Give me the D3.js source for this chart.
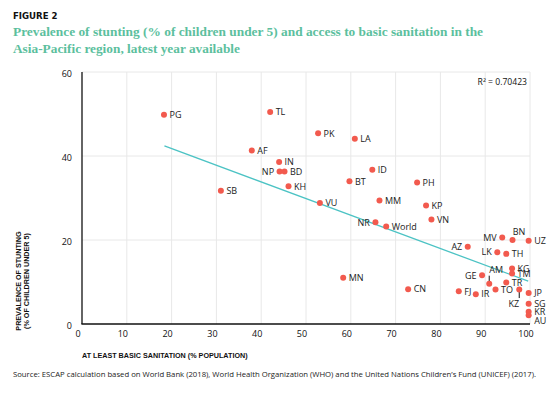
<!DOCTYPE html>
<html>
<head>
<meta charset="utf-8">
<style>
	body { margin: 0; background: #fff; }
	svg { display: block; }
	.tick text { font-family: 'Open Sans', sans-serif; font-size: 9px; fill: #111; }
	.lbl { font-family: 'Open Sans', sans-serif; font-size: 9px; fill: #222; }
	.axtitle { font-family: 'Liberation Sans Narrow', 'Liberation Sans', sans-serif; font-weight: bold; font-size: 7.2px; fill: #111; }
</style>
<script src="https://d3js.org/d3.v7.min.js"></script>
</head>
<body>
<svg width="557" height="397"></svg>
<script>

// country codes, % with at least basic sanitation, % of children under 5 stunted
const codes = ["PG","SB","TL","PK","LA","AF","IN","NP","BD","KH",
	"ID","BT","VU","MM","PH","KP","VN","NR","World","MN",
	"CN","MV","BN","UZ","AZ","LK","TH","KG","GE","TM",
	"AM","TR","TO","KZ","FJ","IR","JP","SG","KR","AU"];
const sanitation = [18.3, 31.0, 42.0, 52.7, 60.9, 37.9, 44.0, 44.1, 45.2, 46.1,
	64.8, 59.7, 53.1, 66.4, 74.8, 76.8, 78.0, 65.5, 67.9, 58.3,
	72.8, 93.8, 96.1, 99.7, 86.1, 92.7, 94.7, 96.0, 89.3, 96.0,
	90.9, 94.7, 92.3, 97.6, 84.1, 87.9, 99.7, 99.7, 99.7, 99.7];
const stunting = [49.8, 31.7, 50.5, 45.4, 44.1, 41.3, 38.6, 36.3, 36.3, 32.8,
	36.7, 34.0, 28.8, 29.4, 33.7, 28.2, 24.9, 24.2, 23.2, 11.0,
	8.3, 20.6, 20.0, 19.8, 18.4, 17.1, 16.7, 13.2, 11.6, 12.0,
	9.6, 9.9, 8.2, 8.2, 7.8, 7.1, 7.4, 4.8, 2.9, 2.1];

// linear trend line end points
const trendX = [18.4, 99.6];
const trendY = [42.4, 10.2];
const rSquared = "0.70423";

const xTicks = [0, 10, 20, 30, 40, 50, 60, 70, 80, 90, 100];
const yTicks = [0, 20, 40, 60];

// where each label sits relative to its dot (default: right)
const labelSide = { NP: "left", NR: "left", MV: "left", AZ: "left", LK: "left", GE: "left",
	BN: "above", AM: "up", KZ: "down", AU: "lowright" };

const data = codes.map((c, i) => ({ code: c, x: sanitation[i], y: stunting[i] }));

var svg = d3.select("svg");

var x = d3.scaleLinear().domain([0, 100]).range([82, 530]);
var y = d3.scaleLinear().domain([0, 60]).range([324, 72]);

// titles
svg.append("text")
	.attr("x", 13).attr("y", 19)
	.style("font-family", "'DejaVu Sans', sans-serif")
	.style("font-weight", "bold")
	.style("font-size", "8.6px")
	.style("fill", "#111")
	.text("FIGURE 2");

var titleLines = ["Prevalence of stunting (% of children under 5) and access to basic sanitation in the",
	"Asia-Pacific region, latest year available"];
var titleWidths = [470, 227];
titleLines.forEach(function (t, i) {
	svg.append("text")
		.attr("x", 13).attr("y", 36 + i * 17)
		.attr("textLength", titleWidths[i])
		.attr("lengthAdjust", "spacingAndGlyphs")
		.style("font-family", "'Liberation Serif', serif")
		.style("font-weight", "bold")
		.style("font-size", "13.5px")
		.style("fill", "#5cbf9e")
		.text(t);
});

// grid
var grid = svg.append("g").attr("stroke", "#e8e8e8").attr("stroke-width", 1);
grid.selectAll(".vg").data(xTicks.slice(1)).enter().append("line")
	.attr("x1", d => x(d)).attr("x2", d => x(d))
	.attr("y1", y(60)).attr("y2", y(0));
grid.selectAll(".hg").data(yTicks.slice(1)).enter().append("line")
	.attr("x1", x(0)).attr("x2", x(100))
	.attr("y1", d => y(d)).attr("y2", d => y(d));

// axes
var xAxis = svg.append("g")
	.attr("transform", "translate(0," + y(0) + ")")
	.call(d3.axisBottom(x).tickValues(xTicks).tickSize(0).tickPadding(7));
xAxis.select(".domain").remove();
xAxis.selectAll("text").attr("dx", "-4.5");

var yAxis = svg.append("g")
	.attr("transform", "translate(" + x(0) + ",0)")
	.call(d3.axisLeft(y).tickValues(yTicks).tickSize(0).tickPadding(10));
yAxis.select(".domain").remove();
yAxis.selectAll("text").attr("dy", "0.55em");

svg.append("line")
	.attr("x1", x(0)).attr("x2", x(0)).attr("y1", y(60)).attr("y2", y(0))
	.attr("stroke", "#111").attr("stroke-width", 1.3);
svg.append("line")
	.attr("x1", x(0) - 0.6).attr("x2", x(100)).attr("y1", y(0)).attr("y2", y(0))
	.attr("stroke", "#111").attr("stroke-width", 1.3);

// axis titles
svg.append("text").attr("class", "axtitle")
	.attr("x", 82).attr("y", 357.5)
	.text("AT LEAST BASIC SANITATION (% POPULATION)");

var yt = svg.append("text").attr("class", "axtitle")
	.attr("transform", "translate(21,281) rotate(-90)")
	.attr("text-anchor", "middle");
yt.append("tspan").attr("x", 0).attr("y", 0).text("PREVALENCE OF STUNTING");
yt.append("tspan").attr("x", 0).attr("y", 7.5).text("(% OF CHILDREN UNDER 5)");

// trend line
svg.append("line")
	.attr("x1", x(trendX[0])).attr("y1", y(trendY[0]))
	.attr("x2", x(trendX[1])).attr("y2", y(trendY[1]))
	.attr("stroke", "#4cc3c4").attr("stroke-width", 1.3);

svg.append("text")
	.attr("x", 527).attr("y", 85)
	.attr("text-anchor", "end")
	.style("font-family", "'Open Sans', sans-serif")
	.style("font-size", "8.6px")
	.style("fill", "#111")
	.text("R\u00B2 = " + rSquared);

// leader lines for labels moved off the dot
svg.selectAll(".leader")
	.data(data.filter(d => labelSide[d.code] == "up" || labelSide[d.code] == "down"))
	.enter().append("line")
	.attr("x1", d => x(d.x)).attr("x2", d => x(d.x))
	.attr("y1", d => y(d.y))
	.attr("y2", d => labelSide[d.code] == "up" ? y(d.y) - 8 : y(d.y) + 8.5)
	.attr("stroke", "#111").attr("stroke-width", 1);

// dots
svg.selectAll(".dot")
	.data(data)
	.enter().append("circle")
	.attr("cx", d => x(d.x))
	.attr("cy", d => y(d.y))
	.attr("r", 3)
	.attr("fill", "#f25a4e");

// labels
svg.selectAll(".lbl")
	.data(data)
	.enter().append("text")
	.attr("class", "lbl")
	.attr("x", function (d) {
		var s = labelSide[d.code];
		if (s == "left") return x(d.x) - 5.5;
		if (s == "above") return x(d.x) + 6.5;
		if (s == "up" || s == "down") return x(d.x);
		return x(d.x) + 5.5;
	})
	.attr("y", function (d) {
		var s = labelSide[d.code];
		if (s == "above") return y(d.y) - 5.5;
		if (s == "up") return y(d.y) - 10.5;
		if (s == "down") return y(d.y) + 17;
		if (s == "lowright") return y(d.y) + 9;
		return y(d.y) + 3.3;
	})
	.attr("text-anchor", function (d) {
		var s = labelSide[d.code];
		if (s == "left" || s == "down") return "end";
		if (s == "above") return "middle";
		return "start";
	})
	.text(d => d.code);

// source
svg.append("text")
	.attr("x", 13).attr("y", 377)
	.attr("textLength", 523)
	.attr("lengthAdjust", "spacingAndGlyphs")
	.style("font-family", "'Open Sans', sans-serif")
	.style("font-size", "7.4px")
	.style("fill", "#222")
	.text("Source: ESCAP calculation based on World Bank (2018), World Health Organization (WHO) and the United Nations Children\u2019s Fund (UNICEF) (2017).");

</script>
</body>
</html>
